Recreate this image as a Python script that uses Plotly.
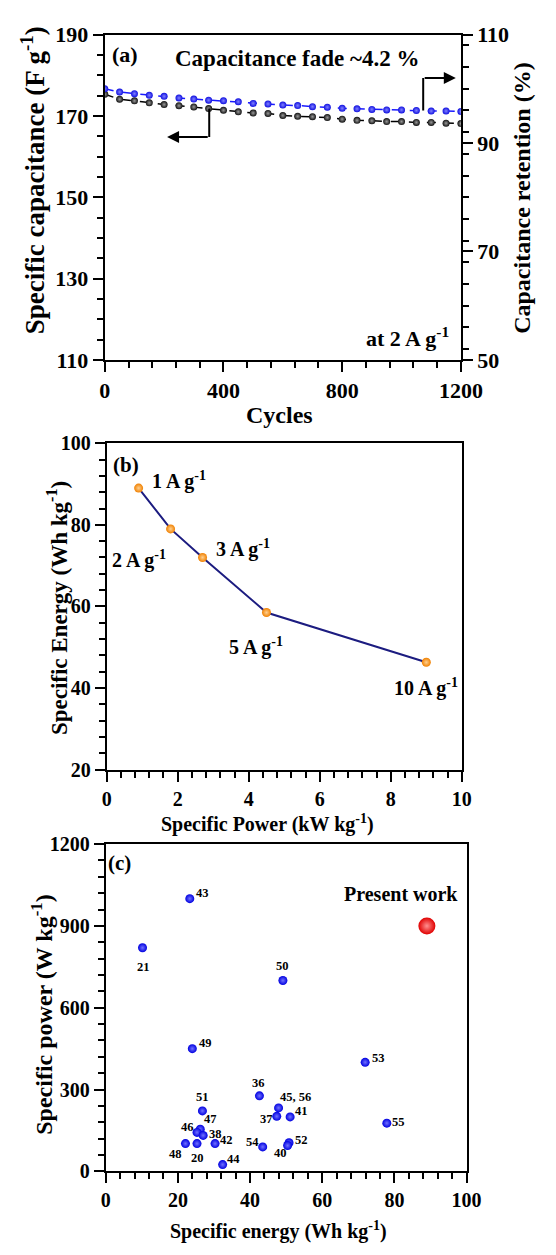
import plotly.graph_objects as go

# ---------------- data ----------------
# (a) cycling stability at 2 A g-1
cycles = [0, 50, 100, 150, 200, 250, 300, 350, 400, 450, 500, 550, 600,
          650, 700, 750, 800, 850, 900, 950, 1000, 1050, 1100, 1150, 1200]
spec_cap = [175.3, 174.1, 173.7, 173.2, 172.8, 172.5, 172.2, 171.8, 171.4,
            171.0, 170.7, 170.6, 170.1, 169.9, 169.8, 169.6, 169.2, 168.9,
            168.8, 168.6, 168.6, 168.4, 168.4, 168.2, 168.1]
retention = [100.0, 99.4, 99.1, 98.8, 98.6, 98.3, 98.1, 97.9, 97.8, 97.6,
             97.3, 97.2, 97.0, 96.9, 96.7, 96.6, 96.4, 96.3, 96.2, 96.1,
             96.1, 96.0, 95.9, 95.9, 95.8]

# (b) Ragone plot
current_labels = ["1 A g<sup>-1</sup>", "2 A g<sup>-1</sup>", "3 A g<sup>-1</sup>",
                  "5 A g<sup>-1</sup>", "10 A g<sup>-1</sup>"]
spec_power_kw = [0.9, 1.8, 2.7, 4.5, 9.0]
spec_energy = [89.0, 79.0, 72.0, 58.5, 46.3]

# (c) comparison with literature
ref_labels = ["43", "21", "50", "49", "53", "51", "47", "46", "38", "48", "20",
              "42", "44", "36", "45, 56", "37", "41", "54", "52", "40", "55"]
ref_energy = [23.3, 10.2, 49.1, 24.0, 71.9, 26.8, 26.2, 25.3, 27.0, 22.1, 25.3,
              30.3, 32.4, 42.6, 47.9, 47.4, 51.1, 43.5, 50.8, 50.4, 77.9]
ref_power = [1000, 820, 700, 450, 400, 222, 155, 143, 132, 102, 102,
             102, 25, 277, 233, 202, 200, 90, 105, 95, 177]
present_label = "Present work"
present_energy = [89.0]
present_power = [900]

# ---------------- styling / layout ----------------
W, H = 556, 1255
FONT = "Liberation Serif"

def px(x):
    return x / W

def py(y):
    return 1 - y / H

def fnt(size, color="black"):
    return dict(family=FONT, size=size, color=color, weight="bold")

def axis(size, dtick, minor_dtick, rng, domain, anchor, **kw):
    d = dict(range=rng, domain=domain, anchor=anchor, dtick=dtick, tick0=rng[0],
             showline=True, linecolor="black", linewidth=2, mirror=True,
             ticks="outside", ticklen=10, tickwidth=2, tickcolor="black",
             minor=dict(dtick=minor_dtick, ticks="outside", ticklen=6,
                        tickwidth=2, tickcolor="black", showgrid=False),
             showgrid=False, zeroline=False, tickfont=fnt(size))
    d.update(kw)
    return d

fig = go.Figure()

# (a)
fig.add_trace(go.Scatter(x=cycles, y=spec_cap, xaxis="x", yaxis="y",
                         mode="lines+markers",
                         line=dict(color="black", width=1.5, dash="dash"),
                         marker=dict(size=7, color="#111111",
                                     gradient=dict(type="radial", color="#9a9a9a"),
                                     line=dict(width=0)),
                         showlegend=False))
fig.add_trace(go.Scatter(x=cycles, y=retention, xaxis="x", yaxis="y2",
                         mode="lines+markers",
                         line=dict(color="#1a1aff", width=1.5, dash="dash"),
                         marker=dict(size=7, color="#1010e0",
                                     gradient=dict(type="radial", color="#8080ff"),
                                     line=dict(width=0)),
                         showlegend=False))

# (b)
fig.add_trace(go.Scatter(x=spec_power_kw, y=spec_energy, xaxis="x2", yaxis="y3",
                         mode="lines+markers",
                         line=dict(color="#1c1c80", width=2),
                         marker=dict(size=9, color="#f08000",
                                     gradient=dict(type="radial", color="#ffd090"),
                                     line=dict(width=0)),
                         showlegend=False))

# (c)
fig.add_trace(go.Scatter(x=ref_energy, y=ref_power, xaxis="x3", yaxis="y4",
                         mode="markers",
                         marker=dict(size=9, color="#0000e0",
                                     gradient=dict(type="radial", color="#7070ff"),
                                     line=dict(width=0)),
                         showlegend=False))
fig.add_trace(go.Scatter(x=present_energy, y=present_power, xaxis="x3", yaxis="y4",
                         mode="markers",
                         marker=dict(size=17, color="#e00000",
                                     gradient=dict(type="radial", color="#ff9090"),
                                     line=dict(width=0)),
                         showlegend=False))

annotations = []

# axis titles (paper coordinates)
def title(text, x, y, size, angle=0):
    annotations.append(dict(text=text, x=px(x), y=py(y), xref="paper", yref="paper",
                            showarrow=False, textangle=angle, font=fnt(size),
                            xanchor="center", yanchor="middle"))

title("Specific capacitance (F g<sup>-1</sup>)", 28, 172, 27, -90)
title("Capacitance retention (%)", 544, 190, 24, -90)
title("Cycles", 288, 411, 24)
title("Specific Energy (Wh kg<sup>-1</sup>)", 55, 608, 23, -90)
title("Specific Power (kW kg<sup>-1</sup>)", 275, 828, 20)
title("Specific power (W kg<sup>-1</sup>)", 37, 1023, 24, -90)
title("Specific energy (Wh kg<sup>-1</sup>)", 287, 1243, 20)

# panel texts
def ptext(text, x, y, size, xanchor="center"):
    annotations.append(dict(text=text, x=px(x), y=py(y), xref="paper", yref="paper",
                            showarrow=False, font=fnt(size), xanchor=xanchor,
                            yanchor="middle"))

ptext("(a)", 125, 43, 22)
ptext("Capacitance fade ~4.2 %", 307, 47, 23)
ptext("at 2 A g<sup>-1</sup>", 469, 332, 22, "right")
ptext("(b)", 126, 462, 21)
ptext("(c)", 119, 868, 21)

# (a) arrows
annotations.append(dict(x=210, y=164.8, ax=352, ay=164.8, xref="x", yref="y",
                        axref="x", ayref="y", text="", showarrow=True,
                        arrowhead=2, arrowsize=1.2, arrowwidth=2, arrowcolor="black"))
annotations.append(dict(x=1183, y=102.0, ax=1073, ay=102.0, xref="x", yref="y2",
                        axref="x", ayref="y2", text="", showarrow=True,
                        arrowhead=2, arrowsize=1.2, arrowwidth=2, arrowcolor="black"))
shapes = [
    dict(type="line", xref="x", yref="y", x0=352, x1=352, y0=171.8, y1=164.8,
         line=dict(color="black", width=2)),
    dict(type="line", xref="x", yref="y2", x0=1073, x1=1073, y0=96.0, y1=102.0,
         line=dict(color="black", width=2)),
]

# (b) point labels
b_shift = [(11, 8, "left"), (-3, -31, "right"), (11, 9, "left"),
           (-10, -34, "center"), (0, -25, "center")]
for lab, xv, yv, (dx, dy, anc) in zip(current_labels, spec_power_kw, spec_energy, b_shift):
    annotations.append(dict(text=lab, x=xv, y=yv, xref="x2", yref="y3",
                            showarrow=False, xshift=dx, yshift=dy, xanchor=anc,
                            yanchor="middle", font=fnt(20)))

# (c) point labels
c_shift = [(13, 6), (1, -19), (0, 14), (13, 6), (13, 4), (0, 14), (10, 10),
           (-10, 5), (12, 1), (-10, -10), (0, -14), (11, 4), (11, 6), (-1, 13),
           (17, 11), (-10, -3), (11, 6), (-10, 5), (12, 3), (-7, -7), (12, 1)]
for lab, xv, yv, (dx, dy) in zip(ref_labels, ref_energy, ref_power, c_shift):
    annotations.append(dict(text=lab, x=xv, y=yv, xref="x3", yref="y4",
                            showarrow=False, xshift=dx, yshift=dy,
                            xanchor="center", yanchor="middle", font=fnt(12.5)))
annotations.append(dict(text=present_label, x=present_energy[0], y=present_power[0],
                        xref="x3", yref="y4", showarrow=False, xshift=-26, yshift=32,
                        xanchor="center", yanchor="middle", font=fnt(20)))

fig.update_layout(
    width=W, height=H, margin=dict(l=0, r=0, t=0, b=0),
    paper_bgcolor="white", plot_bgcolor="white", showlegend=False,
    xaxis=axis(22, 400, 80, [0, 1200], [px(104), px(479)], "y"),
    yaxis=axis(22, 20, 5, [110, 190], [py(355), py(23)], "x"),
    yaxis2=axis(22, 20, 4, [50, 110], [py(355), py(23)], "x",
                overlaying="y", side="right", mirror=False),
    xaxis2=axis(20, 2, 0.4, [0, 10], [px(106), px(480)], "y3"),
    yaxis3=axis(20, 20, 4, [20, 100], [py(773), py(440)], "x2"),
    xaxis3=axis(20, 20, 4, [0, 100], [px(105), px(485)], "y4"),
    yaxis4=axis(20, 300, 60, [0, 1200], [py(1183), py(849)], "x3"),
    annotations=annotations, shapes=shapes,
)

fig.write_html("out.html")
